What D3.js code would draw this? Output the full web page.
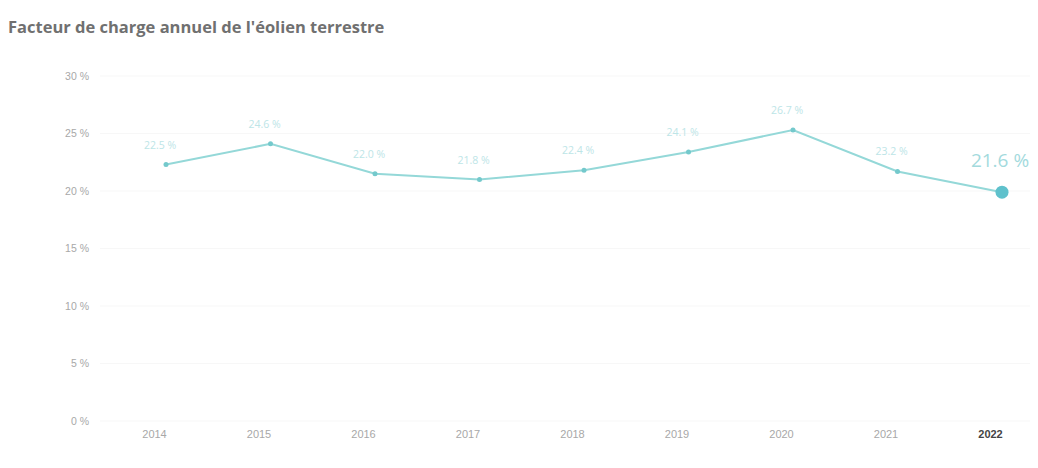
<!DOCTYPE html>
<html>
<head>
<meta charset="utf-8">
<script src="https://cdn.jsdelivr.net/npm/d3@7"></script>
<style>
  body { margin: 0; background: #fff; font-family: "Open Sans", sans-serif; }
  .title { font-weight: 700; font-size: 16.5px; fill: #707070; }
  .tick text { fill: #a8a8a8; font-size: 10.5px; }
</style>
</head>
<body>
<svg id="chart" width="1038" height="468"></svg>
<script>
const years = ["2014", "2015", "2016", "2017", "2018", "2019", "2020", "2021", "2022"]
const loadFactor = [22.3, 24.1, 21.5, 21.0, 21.8, 23.4, 25.3, 21.7, 19.9]
const valueLabels = ["22.5 %", "24.6 %", "22.0 %", "21.8 %", "22.4 %", "24.1 %", "26.7 %", "23.2 %", "21.6 %"]
const yTicks = [0, 5, 10, 15, 20, 25, 30]

const margin = { left: 100, right: 36, top: 76, bottom: 47 }
const width = 1038, height = 468

const svg = d3.select("#chart")

svg.append("text")
    .attr("class", "title")
    .attr("x", 8)
    .attr("y", 33)
    .text("Facteur de charge annuel de l'éolien terrestre")

const x = d3.scalePoint()
    .domain(years)
    .range([166, width - margin.right])

const y = d3.scaleLinear()
    .domain([0, 30])
    .range([height - margin.bottom, margin.top])

// grid
svg.append("g")
    .selectAll("line")
    .data(yTicks)
    .join("line")
    .attr("x1", margin.left)
    .attr("x2", width - 8)
    .attr("y1", d => y(d))
    .attr("y2", d => y(d))
    .style("stroke", "#f7f7f7")

// y axis
const yAxis = svg.append("g")
    .attr("transform", `translate(89,0)`)
    .call(d3.axisLeft(y).tickValues(yTicks).tickSize(0).tickPadding(0).tickFormat(d => d + " %"))
yAxis.select(".domain").remove()

// x axis (labels sit a little left of the points in the original)
const xAxis = svg.append("g")
    .attr("transform", `translate(-12,${y(0) + 9})`)
    .call(d3.axisBottom(x).tickSize(0).tickPadding(0))
xAxis.select(".domain").remove()
xAxis.selectAll(".tick text")
    .style("font-size", "11px")
    .style("fill", d => d == "2022" ? "#444" : "#a8a8a8")
    .style("font-weight", d => d == "2022" ? "700" : "400")

const line = d3.line()
    .x((d, i) => x(years[i]))
    .y(d => y(d))

svg.append("path")
    .datum(loadFactor)
    .attr("d", line)
    .style("fill", "none")
    .style("stroke", "#94d8d8")
    .style("stroke-width", 2)

const last = loadFactor.length - 1

svg.append("g")
    .selectAll("circle")
    .data(loadFactor)
    .join("circle")
    .attr("cx", (d, i) => x(years[i]))
    .attr("cy", d => y(d))
    .attr("r", (d, i) => i == last ? 6.5 : 2.5)
    .style("fill", (d, i) => i == last ? "#5fc1cc" : "#74c9cc")

svg.append("g")
    .selectAll("text")
    .data(loadFactor)
    .join("text")
    .attr("x", (d, i) => x(years[i]) + (i == last ? -2 : -6))
    .attr("y", (d, i) => y(d) - (i == last ? 25 : 16))
    .attr("text-anchor", "middle")
    .style("font-size", (d, i) => i == last ? "19px" : "10.5px")
    .style("fill", (d, i) => i == last ? "#a3dadd" : "#bde5e7")
    .text((d, i) => valueLabels[i])
</script>
</body>
</html>
